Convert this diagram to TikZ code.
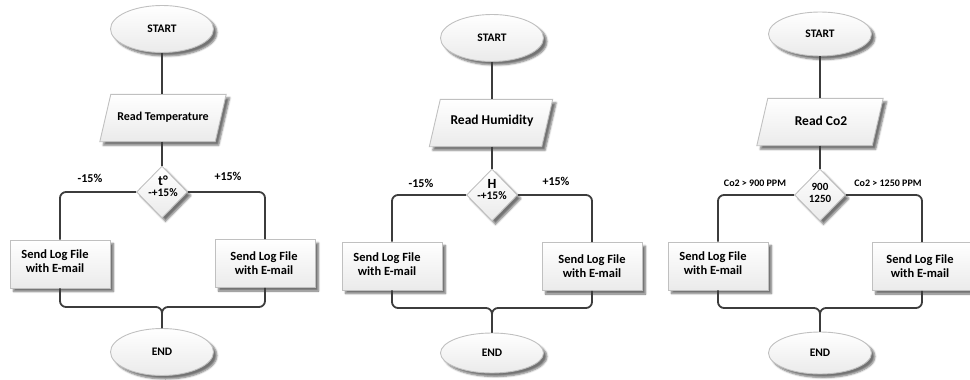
\documentclass[tikz,border=0pt]{standalone}
\usepackage{fontspec}
\setmainfont{Carlito}
\usetikzlibrary{shapes.geometric,shadows,shadows.blur}

\definecolor{edgegray}{HTML}{C0C0C0}
\definecolor{conngray}{HTML}{3C3C3C}

\tikzset{
 shp/.style={draw=edgegray, line width=0.9pt, top color=white, bottom color=black!8,
   blur shadow={shadow xshift=3.5pt, shadow yshift=-3.5pt, shadow blur steps=5, shadow opacity=55},
   inner sep=0pt, font=\bfseries},
 term/.style={shp, ellipse, minimum width=103pt, minimum height=47pt, font=\bfseries\fontsize{11.5}{13}\selectfont},
 iobox/.style={rectangle, minimum width=115pt, minimum height=47pt, inner sep=0pt},
 para/.style={shp},
 dec/.style={shp, diamond, minimum width=51pt, minimum height=52pt},
 proc/.style={shp, rectangle, minimum width=100pt, minimum height=48pt},
 txt/.style={font=\bfseries\fontsize{12.5}{14}\selectfont, align=center, inner sep=0pt},
 iotxt/.style={font=\bfseries\fontsize{13.5}{14}\selectfont, inner sep=0pt},
 dtxt/.style={font=\bfseries\fontsize{11.5}{12}\selectfont, align=center, inner sep=0pt},
 lbl/.style={font=\bfseries\fontsize{12}{13}\selectfont, inner sep=0pt},
 slbl/.style={font=\bfseries\fontsize{10}{11}\selectfont, inner sep=0pt},
 wire/.style={draw=conngray, line width=1.8pt, rounded corners=6pt},
}

\begin{document}
\begin{tikzpicture}[x=1pt, y=-1pt]
\useasboundingbox (0,0) rectangle (970,380);

% ---------- Panel 1 ----------
\node[term] (s1) at (162,29) {START};
\node[iobox] (p1) at (163,118) {};
\path[para] ([xshift=5.5pt]p1.north west) -- ([xshift=5.5pt]p1.north east)
   -- ([xshift=-5.5pt]p1.south east) -- ([xshift=-5.5pt]p1.south west) -- cycle;
\node[iotxt, font=\bfseries\fontsize{12}{13}\selectfont] (p1t) at (163,117) {Read Temperature};
\node[dec] (d1) at (162,192) {};
\node[dtxt] (d1t) at (163,186) {{\fontsize{14}{13}\selectfont t°}\\[-1pt]-+15\%};
\node[proc] (b1L) at (60,264) {};
\node[txt] (b1Lt) at (55,261) {Send Log File\\with E-mail};
\node[proc] (b1R) at (265,263.5) {};
\node[txt] (b1Rt) at (264,263) {Send Log File\\with E-mail};
\node[term, minimum height=47pt] (e1) at (162,352) {END};
\node[lbl] (l1a) at (90,178) {-15\%};
\node[lbl] (l1b) at (228,176) {+15\%};
\coordinate (j1) at (162,307);

\draw[wire] (s1.south) -- (p1.north -| s1.south);
\draw[wire] (p1.south -| d1.north) -- (d1.north);
\draw[wire] (d1.west) -| (b1L.north);
\draw[wire] (d1.east) -| (b1R.north);
\draw[wire] (b1L.south) |- (j1) -- (e1.north);
\draw[wire] (b1R.south) |- (j1) -- (e1.north);

% ---------- Panel 2 ----------
\node[term] (s2) at (492,38) {START};
\node[iobox, minimum width=112pt] (p2) at (491,123) {};
\path[para] ([xshift=5.5pt]p2.north west) -- ([xshift=5.5pt]p2.north east)
   -- ([xshift=-5.5pt]p2.south east) -- ([xshift=-5.5pt]p2.south west) -- cycle;
\node[iotxt] (p2t) at (492,121) {Read Humidity};
\node[dec] (d2) at (492,195) {};
\node[dtxt] (d2t) at (492,190) {{\fontsize{14}{13}\selectfont H}\\[-1pt]-+15\%};
\node[proc] (b2L) at (392,266) {};
\node[txt] (b2Lt) at (387,264) {Send Log File\\with E-mail};
\node[proc] (b2R) at (592,266.5) {};
\node[txt] (b2Rt) at (592,266) {Send Log File\\with E-mail};
\node[term, minimum height=40pt] (e2) at (492,353) {END};
\node[lbl] (l2a) at (421,183) {-15\%};
\node[lbl] (l2b) at (556,181) {+15\%};
\coordinate (j2) at (492,308);

\draw[wire] (s2.south) -- (p2.north -| s2.south);
\draw[wire] (p2.south -| d2.north) -- (d2.north);
\draw[wire] (d2.west) -| (b2L.north);
\draw[wire] (d2.east) -| (b2R.north);
\draw[wire] (b2L.south) |- (j2) -- (e2.north);
\draw[wire] (b2R.south) |- (j2) -- (e2.north);

% ---------- Panel 3 ----------
\node[term, minimum height=44pt] (s3) at (820,34) {START};
\node[iobox] (p3) at (820,122) {};
\path[para] ([xshift=5.5pt]p3.north west) -- ([xshift=5.5pt]p3.north east)
   -- ([xshift=-5.5pt]p3.south east) -- ([xshift=-5.5pt]p3.south west) -- cycle;
\node[iotxt] (p3t) at (821,121) {Read Co2};
\node[dec] (d3) at (820,195) {};
\node[dtxt, font=\bfseries\fontsize{11}{12}\selectfont] (d3t) at (820,193) {900\\1250};
\node[proc] (b3L) at (718,266) {};
\node[txt] (b3Lt) at (713,263) {Send Log File\\with E-mail};
\node[proc] (b3R) at (922,266.5) {};
\node[txt] (b3Rt) at (920,266) {Send Log File\\with E-mail};
\node[term, minimum height=42pt] (e3) at (820,353) {END};
\node[slbl] (l3a) at (755,183) {Co2 > 900 PPM};
\node[slbl] (l3b) at (888,183) {Co2 > 1250 PPM};
\coordinate (j3) at (820,308);

\draw[wire] (s3.south) -- (p3.north -| s3.south);
\draw[wire] (p3.south -| d3.north) -- (d3.north);
\draw[wire] (d3.west) -| (b3L.north);
\draw[wire] (d3.east) -| (b3R.north);
\draw[wire] (b3L.south) |- (j3) -- (e3.north);
\draw[wire] (b3R.south) |- (j3) -- (e3.north);
\end{tikzpicture}
\end{document}
